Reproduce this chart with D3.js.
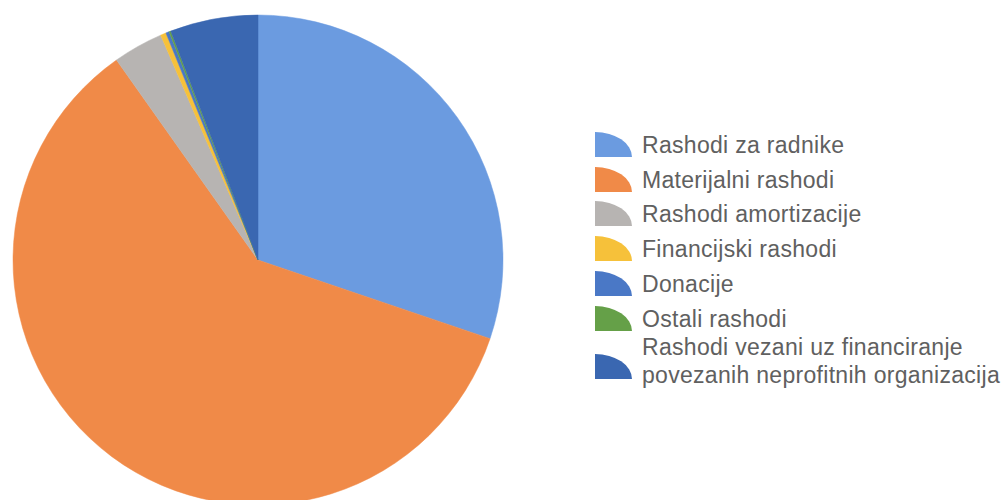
<!DOCTYPE html>
<html>
<head>
<meta charset="utf-8">
<script src="https://cdn.jsdelivr.net/npm/d3@7"></script>
<style>
  body { margin: 0; background: #fff; }
</style>
</head>
<body>
<div id="chart"></div>
<script>
// values (share of total, %)
var categories = [
  "Rashodi za radnike",
  "Materijalni rashodi",
  "Rashodi amortizacije",
  "Financijski rashodi",
  "Donacije",
  "Ostali rashodi",
  "Rashodi vezani uz financiranje povezanih neprofitnih organizacija"
];
var values = [30.2, 60.0, 3.3, 0.37, 0.22, 0.11, 5.8];
var colors = ["#6b9be0", "#f08a48", "#b7b4b2", "#f6c13a", "#4a78c6", "#65a048", "#3a67b1"];
var legendLines = [
  ["Rashodi za radnike"],
  ["Materijalni rashodi"],
  ["Rashodi amortizacije"],
  ["Financijski rashodi"],
  ["Donacije"],
  ["Ostali rashodi"],
  ["Rashodi vezani uz financiranje", "povezanih neprofitnih organizacija"]
];

var width = 1003, height = 500;
var cx = 258, cy = 260, radius = 245;

var svg = d3.select("#chart").append("svg")
  .attr("width", width)
  .attr("height", height);

var colorScale = d3.scaleOrdinal().domain(categories).range(colors);

var data = categories.map(function(c, i){ return {name: c, value: values[i], lines: legendLines[i]}; });

var pie = d3.pie()
  .sort(null)
  .value(function(d){ return d.value; });

var arc = d3.arc()
  .innerRadius(0)
  .outerRadius(radius);

var g = svg.append("g")
  .attr("transform", "translate(" + cx + "," + cy + ")");

g.selectAll("path")
  .data(pie(data))
  .enter()
  .append("path")
  .attr("d", arc)
  .attr("fill", function(d){ return colorScale(d.data.name); })
  .attr("stroke", function(d){ return colorScale(d.data.name); })
  .attr("stroke-width", 0.5);

// legend
var legendX = 595, textX = 642;
var baselines = [153, 188, 222, 257, 292, 327, 355];
var lineGap = 28;
var iconW = 37, iconH = 25;

var item = svg.selectAll(".legend")
  .data(data)
  .enter()
  .append("g")
  .attr("class", "legend");

item.append("path")
  .attr("d", function(d, i){
    var nl = d.lines.length;
    var bottom = baselines[i] + 4 + (nl - 1) * lineGap / 2 + (nl > 1 ? 6 : 0);
    var top = bottom - iconH;
    return "M" + legendX + "," + bottom +
      " L" + legendX + "," + top +
      " A" + iconW + "," + iconH + " 0 0 1 " + (legendX + iconW) + "," + bottom + " Z";
  })
  .attr("fill", function(d){ return colorScale(d.name); });

item.each(function(d, i){
  var sel = d3.select(this);
  d.lines.forEach(function(line, j){
    sel.append("text")
      .attr("x", textX)
      .attr("y", baselines[i] + j * lineGap)
      .attr("font-family", "Liberation Sans, Arial, sans-serif")
      .attr("font-size", "23px")
      .attr("letter-spacing", "0.3px")
      .attr("fill", "#606060")
      .text(line);
  });
});
</script>
</body>
</html>
